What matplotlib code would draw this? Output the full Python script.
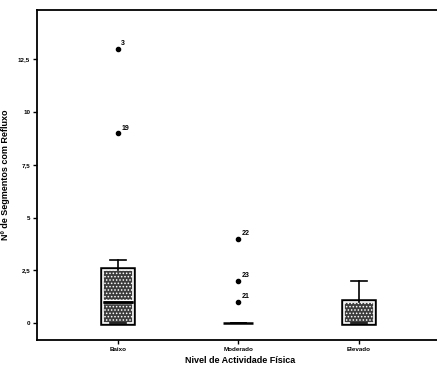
import numpy as np
import matplotlib
matplotlib.use('Agg')
import matplotlib.pyplot as plt
import matplotlib.patheffects as pe

plt.rcParams['font.family'] = ['Liberation Sans', 'DejaVu Sans']
plt.rcParams['hatch.color'] = '#a8a8a8'
plt.rcParams['hatch.linewidth'] = 0.7

# dados
categorias = ['Baixo', 'Moderado', 'Elevado']
minimo = [0, 0, 0]
q1 = [0, 0, 0]
mediana = [1, 0, 0]
q3 = [2.5, 0, 1]
maximo = [3, 0, 2]
outliers_cat = [0, 0, 1, 1, 1]
outliers_val = [13, 9, 4, 2, 1]
outliers_id = ['3', '19', '22', '23', '21']
yticks = [0, 2.5, 5, 7.5, 10, 12.5]
ytick_labels = ['0', '2,5', '5', '7,5', '10', '12,5']

fig = plt.figure(figsize=(4.37, 3.81), dpi=100)
ax = fig.add_axes([0.085, 0.108, 0.93, 0.866])

pos = np.arange(1, len(categorias) + 1)
stats = []
for i in range(len(categorias)):
    stats.append(dict(whislo=minimo[i], q1=q1[i], med=mediana[i], q3=q3[i],
                      whishi=maximo[i], fliers=[]))

bp = ax.bxp(stats, positions=pos, widths=0.25, patch_artist=True,
            showfliers=False,
            boxprops=dict(facecolor='#3c3c3c', edgecolor='white', linewidth=1.2, hatch='.....'),
            medianprops=dict(color='black', linewidth=1.8),
            whiskerprops=dict(color='black', linewidth=1.2),
            capprops=dict(color='black', linewidth=1.2),
            capwidths=0.13)
for i, b in enumerate(bp['boxes']):
    if q3[i] > q1[i]:
        b.set_path_effects([pe.withStroke(linewidth=4, foreground='black')])
    else:
        b.set_visible(False)
for i, m in enumerate(bp['medians']):
    if q1[i] < mediana[i] < q3[i]:
        m.set_path_effects([pe.withStroke(linewidth=3.2, foreground='white'), pe.Normal()])
    elif q3[i] > q1[i]:
        m.set_visible(False)

ox = [pos[c] for c in outliers_cat]
ax.plot(ox, outliers_val, 'o', color='black', markersize=3, linestyle='none')
for x, y, t in zip(ox, outliers_val, outliers_id):
    ax.annotate(t, (x, y), xytext=(2.5, 2.5), textcoords='offset points',
                fontsize=5, fontweight='bold')

ax.set_xlim(0.333, 3.7)
ax.set_ylim(-0.8, 14.85)
ax.set_xticks(pos)
ax.set_xticklabels(categorias, fontsize=4.5, fontweight='bold')
ax.set_yticks(yticks)
ax.set_yticklabels(ytick_labels, fontsize=4.5, fontweight='bold')
ax.tick_params(direction='out', length=3, width=1, pad=2)
for s in ['left', 'bottom', 'top']:
    ax.spines[s].set_linewidth(1.3)
ax.spines['right'].set_visible(False)

ax.set_xlabel('Nivel de Actividade Física', fontsize=6.5, fontweight='bold', labelpad=3)
ax.set_ylabel('Nº de Segmentos com Refluxo', fontsize=6.5, fontweight='bold', labelpad=6)

fig.savefig('out.png', dpi=100)
